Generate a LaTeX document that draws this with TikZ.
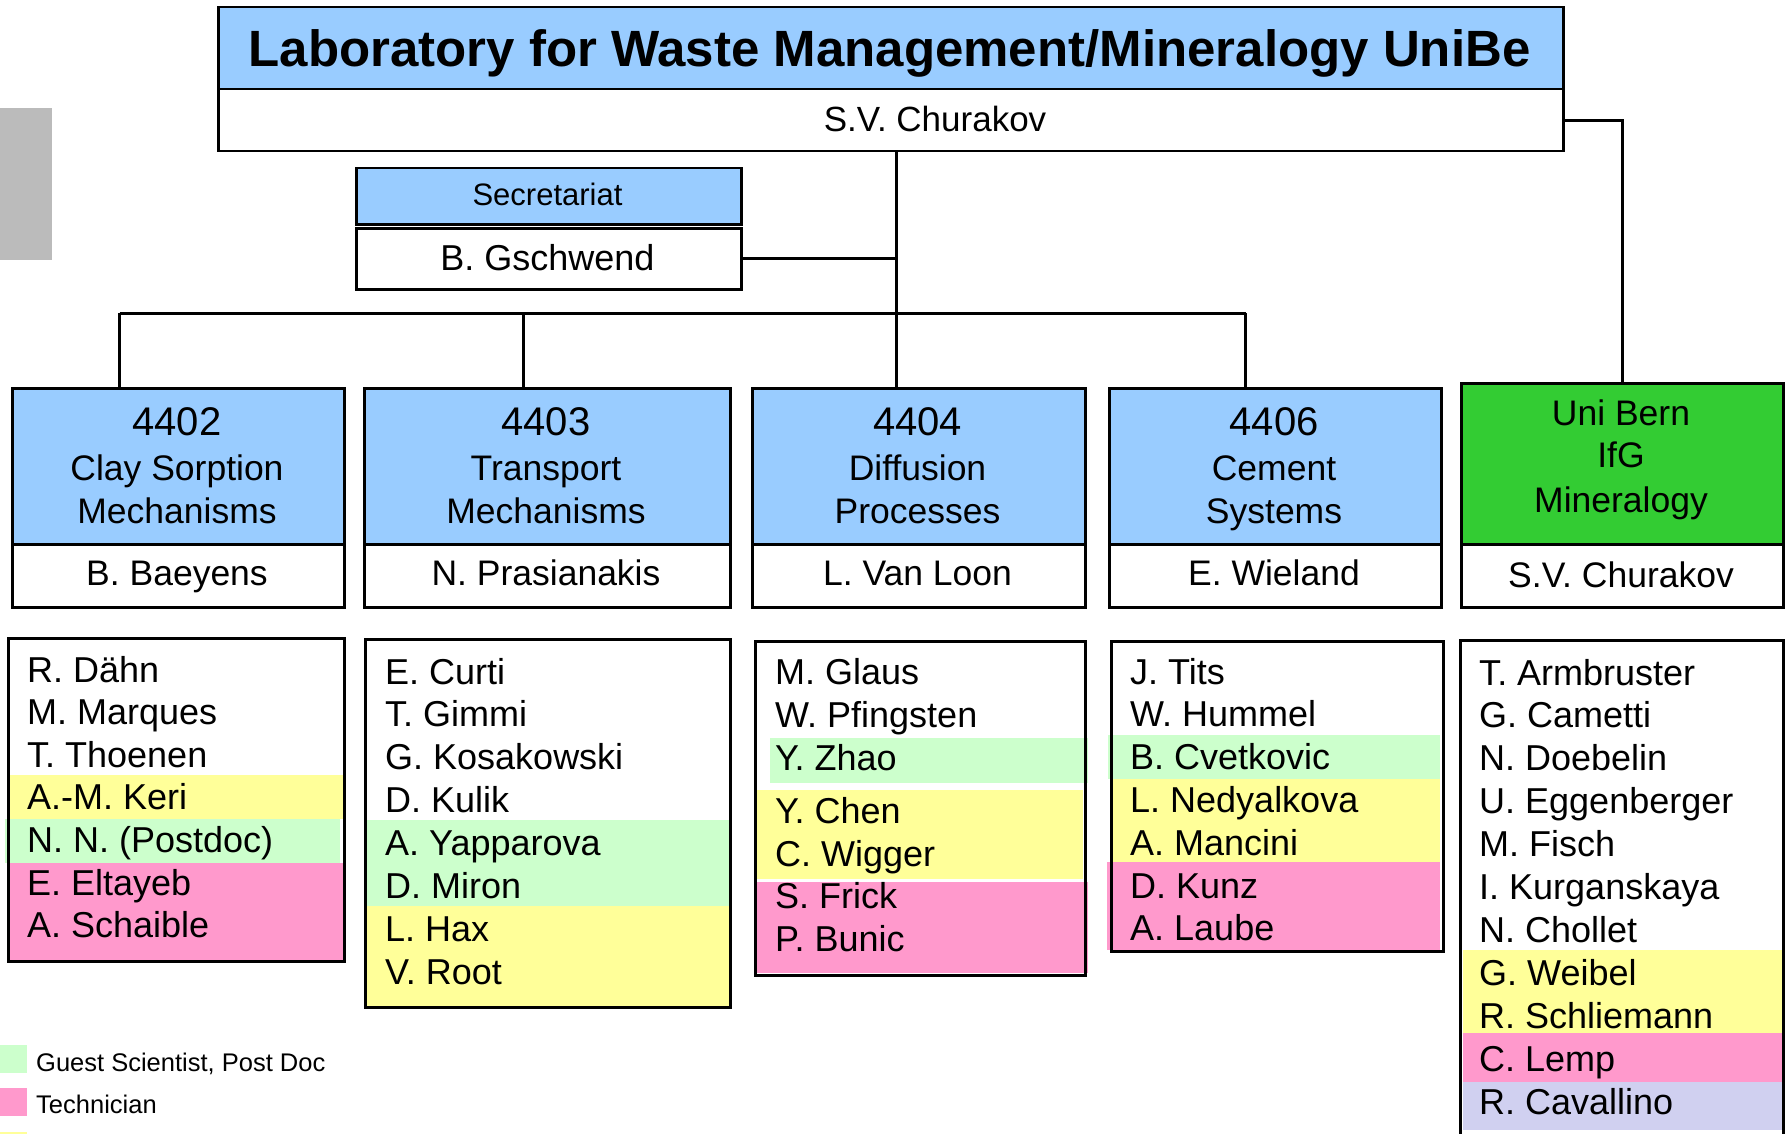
\documentclass[tikz,border=0pt]{standalone}
\usepackage{fontspec}
\setmainfont{Liberation Sans}
\definecolor{hblue}{HTML}{99CCFF}
\definecolor{hgreen}{HTML}{33CC33}
\definecolor{lgreen}{HTML}{CCFFCC}
\definecolor{lpink}{HTML}{FF99CC}
\definecolor{lyellow}{HTML}{FFFF99}
\definecolor{llav}{HTML}{D0D0F0}
\definecolor{lgray}{HTML}{BBBBBB}
\tikzset{
  bx/.style={draw=black, line width=2.5pt, inner sep=0pt, anchor=north west},
  conn/.style={draw=black, line width=3pt},
  nm/.style={anchor=base west, inner sep=0pt, font=\fontsize{36}{43}\selectfont},
  ctr/.style={anchor=base, inner sep=0pt, font=\fontsize{35.5}{43}\selectfont},
  num/.style={anchor=base, inner sep=0pt, font=\fontsize{40}{48}\selectfont},
  leg/.style={anchor=base west, inner sep=0pt, font=\fontsize{25.5}{30}\selectfont},
}
\begin{document}
\begin{tikzpicture}[x=1pt,y=-1pt]
\clip (0,0) rectangle (1785,1134);
\fill[white] (0,0) rectangle (1785,1134);

% gray tab
\fill[lgray] (0,108) rectangle (52,260);

% top box
\node[bx, fill=hblue, minimum width=1345pt, minimum height=82pt] (toph) at (217,6) {};
\node[bx, fill=white, minimum width=1345pt, minimum height=62pt] (topw) at (217,88) {};
\node[anchor=base, inner sep=0pt, font=\fontsize{51}{60}\selectfont\bfseries] (title) at (889.5,67) {Laboratory for Waste Management/Mineralogy UniBe};
\node[ctr, font=\fontsize{35}{42}\selectfont] (topname) at (935,132) {S.V. Churakov};

% secretariat
\node[bx, fill=hblue, minimum width=385pt, minimum height=56pt] (sech) at (355,167) {};
\node[bx, fill=white, minimum width=385pt, minimum height=61pt] (secw) at (355,227) {};
\node[anchor=base, inner sep=0pt, font=\fontsize{31}{37}\selectfont] (sect) at (547.5,206) {Secretariat};
\node[ctr, font=\fontsize{36}{43}\selectfont] (secn) at (547.5,270) {B. Gschwend};

% department boxes
\node[bx, fill=hblue, minimum width=332pt, minimum height=156pt] (h2) at (11,387) {};
\node[bx, fill=white, minimum width=332pt, minimum height=63pt] (w2) at (11,543) {};
\node[bx, fill=hblue, minimum width=366pt, minimum height=156pt] (h3) at (363,387) {};
\node[bx, fill=white, minimum width=366pt, minimum height=63pt] (w3) at (363,543) {};
\node[bx, fill=hblue, minimum width=333pt, minimum height=156pt] (h4) at (751,387) {};
\node[bx, fill=white, minimum width=333pt, minimum height=63pt] (w4) at (751,543) {};
\node[bx, fill=hblue, minimum width=332pt, minimum height=156pt] (h6) at (1108,387) {};
\node[bx, fill=white, minimum width=332pt, minimum height=63pt] (w6) at (1108,543) {};
\node[bx, fill=hgreen, minimum width=322pt, minimum height=161pt] (hu) at (1460,382) {};
\node[bx, fill=white, minimum width=322pt, minimum height=63pt] (wu) at (1460,543) {};

\node[num] (t2a) at (177,435) {4402};
\node[ctr] (t2b) at (177,480) {Clay Sorption};
\node[ctr] (t2c) at (177,523) {Mechanisms};
\node[ctr] (t2n) at (177,585) {B. Baeyens};

\node[num] (t3a) at (546,435) {4403};
\node[ctr] (t3b) at (546,480) {Transport};
\node[ctr] (t3c) at (546,523) {Mechanisms};
\node[ctr] (t3n) at (546,585) {N. Prasianakis};

\node[num] (t4a) at (917.5,435) {4404};
\node[ctr] (t4b) at (917.5,480) {Diffusion};
\node[ctr] (t4c) at (917.5,523) {Processes};
\node[ctr] (t4n) at (917.5,585) {L. Van Loon};

\node[num] (t6a) at (1274,435) {4406};
\node[ctr] (t6b) at (1274,480) {Cement};
\node[ctr] (t6c) at (1274,523) {Systems};
\node[ctr] (t6n) at (1274,585) {E. Wieland};

\node[ctr] (tua) at (1621,425) {Uni Bern};
\node[ctr] (tub) at (1621,467) {IfG};
\node[ctr] (tuc) at (1621,512) {Mineralogy};
\node[ctr] (tun) at (1621,587) {S.V. Churakov};

% connectors
\coordinate (hub) at (896,313);
\coordinate (b2) at (119.5,313);
\coordinate (b3) at (523.7,313);
\coordinate (b6) at (1245.5,313);
\draw[conn] (topw.south -| hub) -- (h4.north -| hub);
\draw[conn] (b2) -- (b6);
\draw[conn] (b2) -- (b2 |- h2.north);
\draw[conn] (b3) -- (b3 |- h3.north);
\draw[conn] (b6) -- (b6 |- h6.north);
\draw[conn] (secw.east) -- (secw.east -| hub);
\draw[conn] (topw.east) -| (hu.north);

% list 4402
\fill[lyellow] (7,775) rectangle (343,819);
\fill[lgreen] (5,819) rectangle (340,863);
\fill[lpink] (7,863) rectangle (343,960);
\node[bx, minimum width=336pt, minimum height=323pt] (l2) at (7,637) {};
\foreach \t [count=\i] in {R. Dähn, M. Marques, T. Thoenen, A.-M. Keri, N. N. (Postdoc), E. Eltayeb, A. Schaible}
  \node[nm] (n2-\i) at (27,{682+42.6*(\i-1)}) {\t};

% list 4403
\fill[lgreen] (364,820) rectangle (729,906);
\fill[lyellow] (364,906) rectangle (729,1006);
\node[bx, minimum width=365pt, minimum height=368pt] (l3) at (364,638) {};
\foreach \t [count=\i] in {E. Curti, T. Gimmi, G. Kosakowski, D. Kulik, A. Yapparova, D. Miron, L. Hax, V. Root}
  \node[nm] (n3-\i) at (385,{684+42.9*(\i-1)}) {\t};

% list 4404
\fill[lgreen] (770,738) rectangle (1088,783);
\fill[lyellow] (755,790) rectangle (1083,879);
\fill[lpink] (755,882) rectangle (1088,973);
\node[bx, minimum width=330pt, minimum height=334pt] (l4) at (754,640) {};
\foreach \yy/\t [count=\i] in {684/M. Glaus, 727/W. Pfingsten, 770/Y. Zhao, 823/Y. Chen, 866/C. Wigger, 908/S. Frick, 951/P. Bunic}
  \node[nm] (n4-\i) at (775,\yy) {\t};

% list 4406
\fill[lgreen] (1108,735) rectangle (1440,779);
\fill[lyellow] (1110,779) rectangle (1440,862);
\fill[lpink] (1107,862) rectangle (1440,950);
\node[bx, minimum width=332pt, minimum height=310pt] (l6) at (1110,640) {};
\foreach \t [count=\i] in {J. Tits, W. Hummel, B. Cvetkovic, L. Nedyalkova, A. Mancini, D. Kunz, A. Laube}
  \node[nm] (n6-\i) at (1130,{684+42.8*(\i-1)}) {\t};

% list Uni Bern
\fill[lyellow] (1463,950) rectangle (1782,1033);
\fill[lpink] (1463,1033) rectangle (1782,1082);
\fill[llav] (1463,1082) rectangle (1782,1130);
\node[bx, minimum width=323pt, minimum height=520pt] (lu) at (1459,639) {};
\foreach \t [count=\i] in {T. Armbruster, G. Cametti, N. Doebelin, U. Eggenberger, M. Fisch, I. Kurganskaya, N. Chollet, G. Weibel, R. Schliemann, C. Lemp, R. Cavallino}
  \node[nm] (nu-\i) at (1479,{685+42.9*(\i-1)}) {\t};

% legend
\fill[lgreen] (0,1045) rectangle (27,1073);
\fill[lpink] (0,1088) rectangle (27,1116);
\fill[lyellow] (0,1132) rectangle (27,1150);
\node[leg] (lg1) at (36,1071) {Guest Scientist, Post Doc};
\node[leg] (lg2) at (36,1113) {Technician};
\end{tikzpicture}
\end{document}
